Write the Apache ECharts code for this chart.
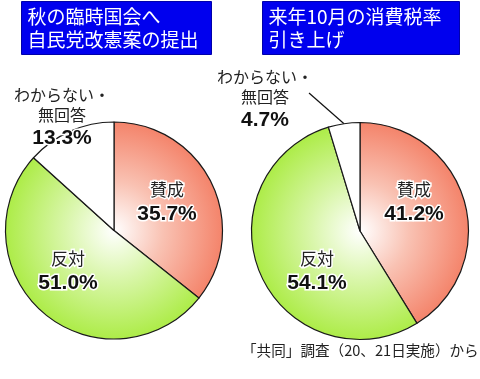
<!DOCTYPE html>
<html><head><meta charset="utf-8">
<script src="https://cdn.jsdelivr.net/npm/echarts@6/dist/echarts.min.js"></script>
<style>html,body{margin:0;padding:0;background:#fff}#c{width:480px;height:379px}</style>
</head><body><div id="c"></div>
<script>
// ---- data ----
const categories = ['賛成', '反対', 'わからない・\n無回答'];
const valuesLeft = [35.7, 51.0, 13.3];
const valuesRight = [41.2, 54.1, 4.7];
const titleLeft = ['秋の臨時国会へ', '自民党改憲案の提出'];
const titleRight = ['来年10月の消費税率', '引き上げ'];
const footer = '「共同」調査（20、21日実施）から';

// ---- layout / style ----
const R = 108.5;
const centers = [[114, 230.5], [360, 231]];
const labelPos = [
  [[167, 203], [68, 272], [62, 118]],
  [[414, 203], [317, 272], [265, 100]]
];
const colorEdge = ['#f4846b', '#adec48', '#ffffff'];
const colorMid = ['#f9c2b3', '#d9f6aa', '#ffffff'];

function grad(c, i) {
  return new echarts.graphic.RadialGradient(c[0], c[1], R, [
    {offset: 0, color: '#ffffff'},
    {offset: 0.45, color: colorMid[i]},
    {offset: 1, color: colorEdge[i]}
  ], true);
}

const rich = {
  n: {fontFamily: 'Noto Sans CJK JP', fontSize: 17, color: '#222', lineHeight: 22,
      textBorderColor: '#fff', textBorderWidth: 3},
  m: {fontFamily: 'Noto Sans CJK JP', fontSize: 16, color: '#222', lineHeight: 20,
      textBorderColor: '#fff', textBorderWidth: 3},
  p: {fontFamily: 'Liberation Sans', fontWeight: 'bold', fontSize: 21, color: '#111', lineHeight: 26,
      textBorderColor: '#fff', textBorderWidth: 3}
};

function makeSeries(vals, si) {
  const c = centers[si];
  return {
    type: 'pie',
    center: c,
    radius: R,
    startAngle: 90,
    clockwise: true,
    avoidLabelOverlap: false,
    silent: true,
    itemStyle: {borderColor: '#1a1a1a', borderWidth: 1.2},
    label: {show: true, position: 'inside', rich: rich, align: 'center',
      formatter: p => {
        if (p.dataIndex === 2) {
          const parts = p.name.split('\n');
          return '{m|' + parts[0] + '}\n{m|' + parts[1] + '}\n{p|' + p.value.toFixed(1) + '%}';
        }
        return '{n|' + p.name + '}\n{p|' + p.value.toFixed(1) + '%}';
      }},
    labelLine: {show: false},
    data: vals.map((v, i) => ({
      name: categories[i], value: v,
      itemStyle: {color: grad(c, i)},
      label: i === 2 ? {position: 'outside'} : {},
      labelLine: (i === 2 && si === 1) ? {show: true, lineStyle: {color: '#111', width: 1.2}} : {show: false}
    })),
    labelLayout: function (params) {
      const lp = labelPos[params.seriesIndex][params.dataIndex];
      const out = {x: lp[0], y: lp[1], align: 'center', verticalAlign: 'middle'};
      if (params.seriesIndex === 1 && params.dataIndex === 2 && params.labelLinePoints) {
        out.labelLinePoints = [[lp[0] + 44, lp[1] - 7], params.labelLinePoints[0]];
      }
      return out;
    }
  };
}

function titleGroup(x, w, lines) {
  return {
    type: 'group', left: x, top: 1,
    children: [
      {type: 'rect', shape: {x: 0, y: 0, width: w, height: 53},
       style: {fill: '#0000ee', stroke: '#0000aa', lineWidth: 1}},
      {type: 'text', x: 6, y: 4,
       style: {text: lines.join('\n'), fill: '#fff', font: '19px "Noto Sans CJK JP"', lineHeight: 23}}
    ]
  };
}

const chart = echarts.init(document.getElementById('c'), null, {renderer: 'canvas'});
chart.setOption({
  backgroundColor: '#ffffff',
  animation: false,
  series: [makeSeries(valuesLeft, 0), makeSeries(valuesRight, 1)],
  graphic: [
    titleGroup(21, 190, titleLeft),
    titleGroup(262, 197, titleRight),
    {type: 'text', left: 242, top: 343,
     style: {text: footer, fill: '#222', font: '14.6px "Noto Sans CJK JP"'}}
  ]
});
</script>
</body></html>
